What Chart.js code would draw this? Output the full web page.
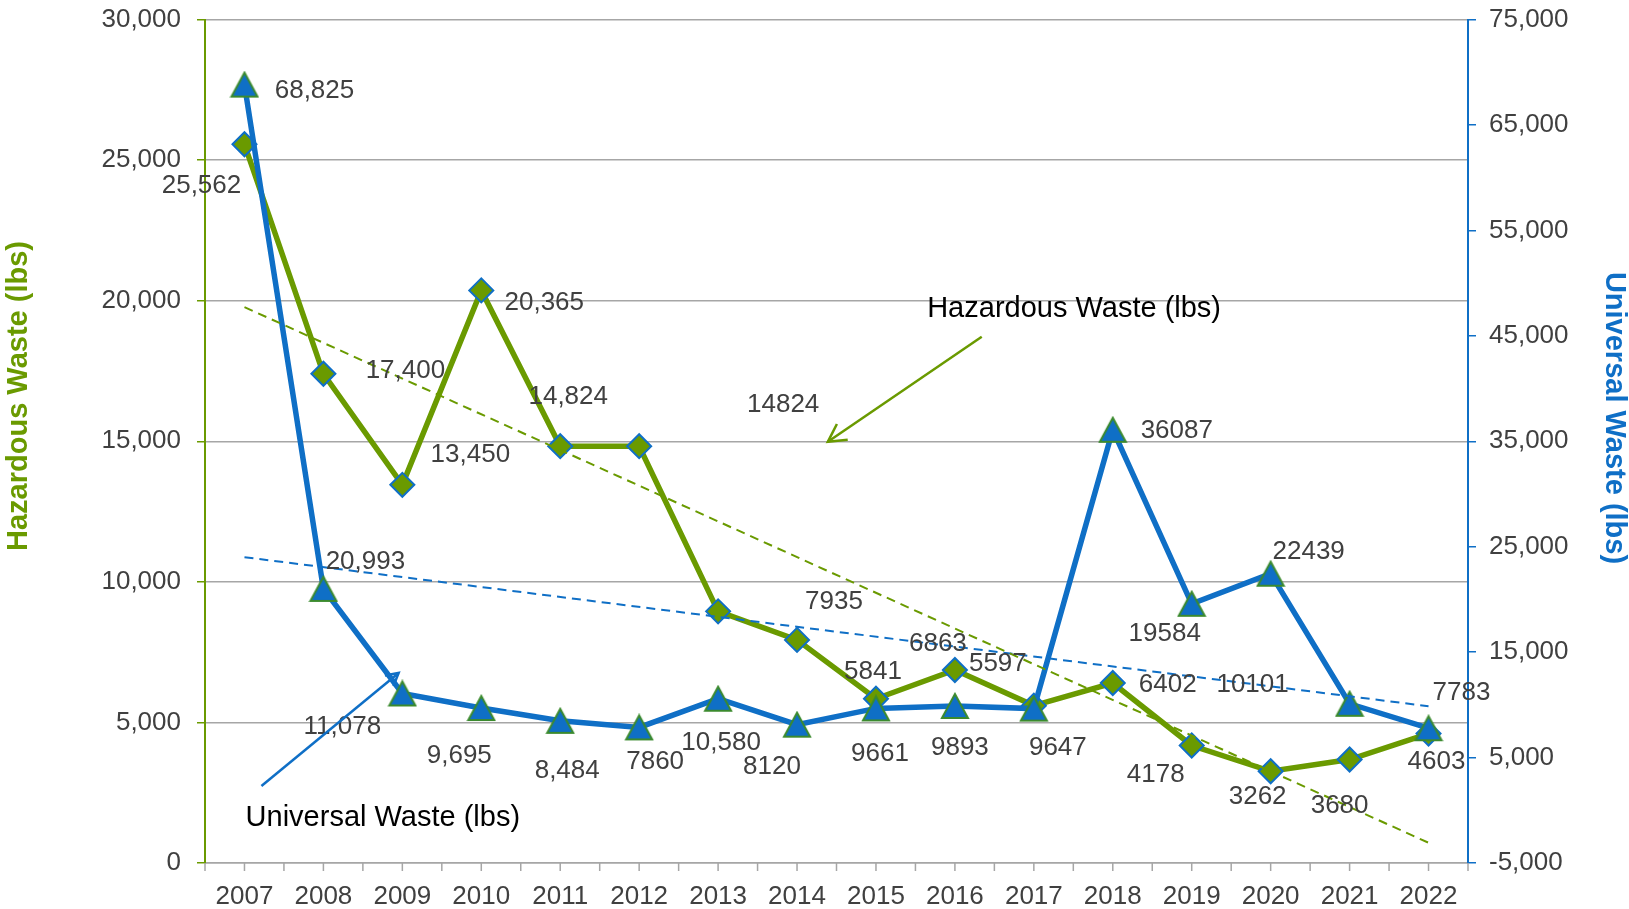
<!DOCTYPE html>
<html>
<head>
<meta charset="utf-8">
<script src="https://cdn.jsdelivr.net/npm/chart.js@4.4.1/dist/chart.umd.min.js"></script>
<style>
  html, body { margin: 0; padding: 0; background: #fff; }
  #wrap { width: 1629px; height: 909px; }
</style>
</head>
<body>
<div id="wrap"><canvas id="chart" width="1629" height="909"></canvas></div>
<script>
// categories
const years = ['2007', '2008', '2009', '2010', '2011', '2012', '2013', '2014',
               '2015', '2016', '2017', '2018', '2019', '2020', '2021', '2022'];

// hazardous waste (lbs) - left axis
const hazardous = [25562, 17400, 13450, 20365, 14824, 14824, 8950, 7935,
                   5841, 6863, 5597, 6402, 4178, 3262, 3680, 4603];

// universal waste (lbs) - right axis
const universal = [68825, 20993, 11078, 9695, 8484, 7860, 10580, 8120,
                   9661, 9893, 9647, 36087, 19584, 22439, 10101, 7783];

// labels as they are printed on the chart (2013 hazardous has none)
const hazardousLabels = ['25,562', '17,400', '13,450', '20,365', '14,824', '14824', '', '7935',
                         '5841', '6863', '5597', '6402', '4178', '3262', '3680', '4603'];
const universalLabels = ['68,825', '20,993', '11,078', '9,695', '8,484', '7860', '10,580', '8120',
                         '9661', '9893', '9647', '36087', '19584', '22439', '10101', '7783'];

// linear trend lines (ends)
const hazardousTrend = [19770, null, null, null, null, null, null, null,
                        null, null, null, null, null, null, null, 720];
const universalTrend = [24000, null, null, null, null, null, null, null,
                        null, null, null, null, null, null, null, 9870];

// axis ticks
const leftTicks = [0, 5000, 10000, 15000, 20000, 25000, 30000];
const rightTicks = [-5000, 5000, 15000, 25000, 35000, 45000, 55000, 65000, 75000];

// where each label sits relative to its point (px)
const hazardousLabelOffsets = [[-43, 42], [82, -3], [68, -30], [63, 12], [8, -49], [144, -41], [0, 0], [37, -38],
                               [-3, -27], [-17, -26], [-36, -42], [55, 2], [-36, 29], [-13, 26], [-10, 46], [8, 28]];
const universalLabelOffsets = [[70, 6], [42, -27], [-60, 33], [-22, 48], [7, 50], [16, 34], [3, 44], [-25, 42],
                               [4, 45], [5, 42], [24, 39], [64, 1], [-27, 30], [38, -22], [-97, -19], [33, -35]];

const GREEN = '#6a9a00';
const BLUE = '#0f6fc6';
const MARKER_EDGE_GREEN = '#3b8a2e';
const TEXT = '#404040';
const GRID = '#a6a6a6';
const FONT = '"Liberation Sans", Arial, sans-serif';

Chart.defaults.font.family = FONT;
Chart.defaults.color = TEXT;

// triangle marker, centred on its box like the original
function triangleMarker() {
  const c = document.createElement('canvas');
  c.width = 30; c.height = 28;
  const g = c.getContext('2d');
  g.beginPath();
  g.moveTo(15, 2); g.lineTo(28, 26); g.lineTo(2, 26); g.closePath();
  g.fillStyle = BLUE; g.fill();
  g.lineWidth = 2; g.strokeStyle = MARKER_EDGE_GREEN; g.lineJoin = 'miter';
  g.stroke();
  return c;
}

// annotations, in category index / left axis units
const annotations = {
  hazText: { text: 'Hazardous Waste (lbs)', at: [10.51, 19690] },
  uniText: { text: 'Universal Waste (lbs)', at: [1.753, 1610] },
  hazArrow: { from: [9.34, 18717], to: [7.39, 14980], color: GREEN, head: 20 },
  uniArrow: { from: [0.215, 2740], to: [1.953, 6760], color: BLUE, head: 14 }
};

const labelSets = [
  { dataset: 1, texts: universalLabels, offsets: universalLabelOffsets },
  { dataset: 2, texts: hazardousLabels, offsets: hazardousLabelOffsets }
];

function drawArrow(ctx, x1, y1, x2, y2, color, head) {
  ctx.strokeStyle = color;
  ctx.lineWidth = 2.5;
  ctx.beginPath(); ctx.moveTo(x1, y1); ctx.lineTo(x2, y2); ctx.stroke();
  const a = Math.atan2(y2 - y1, x2 - x1);
  ctx.beginPath();
  ctx.moveTo(x2 - head * Math.cos(a - 0.5), y2 - head * Math.sin(a - 0.5));
  ctx.lineTo(x2, y2);
  ctx.lineTo(x2 - head * Math.cos(a + 0.5), y2 - head * Math.sin(a + 0.5));
  ctx.stroke();
}

const extras = {
  id: 'extras',
  afterDraw(chart) {
    const ctx = chart.ctx;
    const x = chart.scales.x, y = chart.scales.y;
    const area = chart.chartArea;
    ctx.save();

    // x axis tick marks, at category centres and boundaries
    const half = (x.getPixelForValue(1) - x.getPixelForValue(0)) / 2;
    ctx.strokeStyle = GRID;
    ctx.lineWidth = 1.5;
    ctx.beginPath();
    for (let i = 0; i < years.length; i++) {
      const px = x.getPixelForValue(i);
      [px - half, px].forEach(p => { ctx.moveTo(p, area.bottom); ctx.lineTo(p, area.bottom + 8); });
    }
    const last = x.getPixelForValue(years.length - 1) + half;
    ctx.moveTo(last, area.bottom); ctx.lineTo(last, area.bottom + 8);
    ctx.stroke();

    // point labels
    ctx.font = '26px ' + FONT;
    ctx.fillStyle = TEXT;
    ctx.textAlign = 'center';
    ctx.textBaseline = 'middle';
    labelSets.forEach(set => {
      const meta = chart.getDatasetMeta(set.dataset);
      meta.data.forEach((pt, i) => {
        const t = set.texts[i];
        if (!t) return;
        ctx.fillText(t, pt.x + set.offsets[i][0], pt.y + set.offsets[i][1]);
      });
    });

    // arrows and their captions
    [annotations.hazArrow, annotations.uniArrow].forEach(a => {
      drawArrow(ctx,
        x.getPixelForValue(a.from[0]), y.getPixelForValue(a.from[1]),
        x.getPixelForValue(a.to[0]), y.getPixelForValue(a.to[1]),
        a.color, a.head);
    });
    ctx.font = '29px ' + FONT;
    ctx.fillStyle = '#000';
    [annotations.hazText, annotations.uniText].forEach(a => {
      ctx.fillText(a.text, x.getPixelForValue(a.at[0]), y.getPixelForValue(a.at[1]));
    });

    // axis titles
    ctx.font = 'bold 29px ' + FONT;
    ctx.fillStyle = GREEN;
    ctx.translate(19, 396);
    ctx.rotate(-Math.PI / 2);
    ctx.fillText('Hazardous Waste (lbs)', 0, 0);
    ctx.setTransform(1, 0, 0, 1, 0, 0);
    ctx.fillStyle = BLUE;
    ctx.translate(1614, 418);
    ctx.rotate(Math.PI / 2);
    ctx.fillText('Universal Waste (lbs)', 0, 0);
    ctx.restore();
  }
};

const fmt = v => Number(v).toLocaleString('en-US');

// fixed box sizes so the plot area lands where the original's does
function fixY(width) {
  return s => { s.width = width; s.paddingTop = 0; s.paddingBottom = 0; };
}

new Chart(document.getElementById('chart'), {
  type: 'line',
  data: {
    labels: years,
    datasets: [
      {
        label: 'Hazardous trend', data: hazardousTrend, yAxisID: 'y', order: 0,
        borderColor: GREEN, borderWidth: 2, borderDash: [9, 6], pointRadius: 0,
        spanGaps: true, fill: false
      },
      {
        label: 'Universal Waste (lbs)', data: universal, yAxisID: 'y2', order: 1,
        borderColor: BLUE, borderWidth: 5.5, pointStyle: triangleMarker(),
        pointRadius: 14, fill: false, tension: 0
      },
      {
        label: 'Hazardous Waste (lbs)', data: hazardous, yAxisID: 'y', order: 2,
        borderColor: GREEN, borderWidth: 5.5, pointStyle: 'rectRot', pointRadius: 12,
        pointBackgroundColor: GREEN, pointBorderColor: BLUE, pointBorderWidth: 2,
        fill: false, tension: 0
      },
      {
        label: 'Universal trend', data: universalTrend, yAxisID: 'y2', order: 0,
        borderColor: BLUE, borderWidth: 2, borderDash: [9, 6], pointRadius: 0,
        spanGaps: true, fill: false
      }
    ]
  },
  options: {
    responsive: false,
    animation: false,
    devicePixelRatio: 1,
    layout: { padding: { top: 17, left: 0, right: 0, bottom: 0 } },
    plugins: { legend: { display: false }, tooltip: { enabled: false } },
    scales: {
      x: {
        offset: true,
        grid: { display: false },
        border: { display: true, color: GRID, width: 1.5 },
        ticks: { font: { size: 26 }, color: TEXT, padding: 10, maxRotation: 0, autoSkip: false },
        afterFit: s => { s.height = 46; }
      },
      y: {
        position: 'left',
        min: 0, max: 30000,
        afterBuildTicks: s => { s.ticks = leftTicks.map(v => ({ value: v })); },
        grid: { color: GRID, lineWidth: 1.5, tickColor: GREEN, tickLength: 8 },
        border: { color: GREEN, width: 2 },
        ticks: { font: { size: 26 }, color: TEXT, padding: 16, callback: fmt },
        afterFit: fixY(205)
      },
      y2: {
        position: 'right',
        min: -5000, max: 75000,
        afterBuildTicks: s => { s.ticks = rightTicks.map(v => ({ value: v })); },
        grid: { drawOnChartArea: false, tickColor: BLUE, tickLength: 8, lineWidth: 1.5 },
        border: { color: BLUE, width: 2 },
        ticks: { font: { size: 26 }, color: TEXT, padding: 13, callback: fmt },
        afterFit: fixY(161)
      }
    }
  },
  plugins: [extras]
});
</script>
</body>
</html>
